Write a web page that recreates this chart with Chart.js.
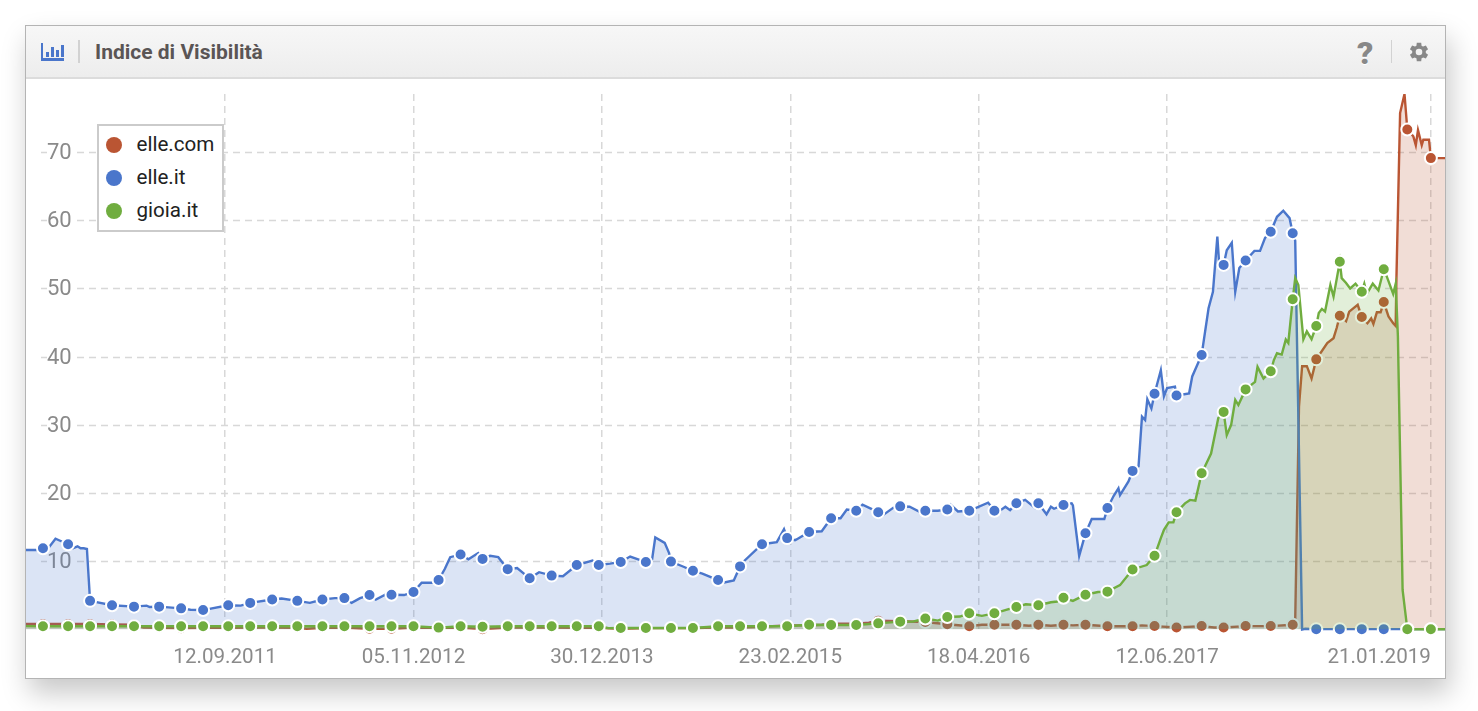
<!DOCTYPE html>
<html lang="it">
<head>
<meta charset="utf-8">
<title>Indice di Visibilità</title>
<script src="https://cdn.jsdelivr.net/npm/chart.js@4"></script>
<style>
    html, body { margin: 0; padding: 0; background: #fff; font-family: Roboto, sans-serif; }
    .card { position: absolute; left: 25px; top: 25px; width: 1419px; height: 652px; background: #fff; border: 1px solid #b4b4b4; box-shadow: 4px 14px 26px rgba(0,0,0,0.22); }
    .card-head { position: absolute; left: 0; top: 0; right: 0; height: 51px; background: linear-gradient(#f7f7f7, #ededed); border-bottom: 2px solid #dcdcdc; }
    .title { position: absolute; left: 69px; top: 13px; font-size: 21px; line-height: 26px; font-weight: 700; color: #5a5555; white-space: nowrap; }
    .sep { position: absolute; top: 14px; width: 2px; height: 23px; background: #d2d2d2; }
    .help { position: absolute; left: 1331px; top: 9px; font-size: 32px; line-height: 36px; font-weight: 900; color: #888; text-shadow: 0 1px 0 #fff; }
    .icon { position: absolute; }
    .chart-wrap { position: absolute; left: 0; top: 53px; width: 1419px; height: 599px; }
    .legend-box { position: absolute; left: 71px; top: 98px; width: 123px; height: 104px; border: 2px solid #cbcbcb; background: #fff; }
    .legend-row { position: absolute; left: 6.5px; height: 33px; line-height: 33px; font-size: 20.6px; color: #222; white-space: nowrap; }
    .legend-row i { display: inline-block; width: 16px; height: 16px; border-radius: 50%; vertical-align: -2px; margin-right: 15px; }
</style>
</head>
<body>
<div class="card">
    <div class="card-head">
        <svg class="icon" style="left:15px;top:17px" width="23" height="18" viewBox="0 0 23 18">
            <path fill="#4a76cb" d="M0 0h2v15h21v3H0z M5 9h3v5H5z M10 4h3v10h-3z M15 7h3v7h-3z M20 2h3v12h-3z"/>
        </svg>
        <div class="sep" style="left:52px"></div>
        <div class="title">Indice di Visibilità</div>
        <div class="help">?</div>
        <div class="sep" style="left:1365px;width:1px"></div>
        <svg class="icon" style="left:1382px;top:15px" width="22" height="22" viewBox="0 0 24 24">
            <path fill="#888" d="M19.4 13a7.6 7.6 0 0 0 0-2l2.5-2-2.4-4.1-3 1.2a7.5 7.5 0 0 0-1.7-1L14.4 2H9.6l-.4 3.1a7.5 7.5 0 0 0-1.7 1l-3-1.2L2.1 9l2.5 2a7.6 7.6 0 0 0 0 2l-2.5 2 2.4 4.1 3-1.2a7.5 7.5 0 0 0 1.7 1l.4 3.1h4.8l.4-3.1a7.5 7.5 0 0 0 1.7-1l3 1.2 2.4-4.1zM12 15.6a3.6 3.6 0 1 1 0-7.2 3.6 3.6 0 0 1 0 7.2z"/>
        </svg>
    </div>
    <div class="chart-wrap"><canvas id="chartVisibilita" width="1419" height="599"></canvas></div>
    <div class="legend-box" id="legendBox"></div>
</div>

<script>
// x values are weeks counted from 12.09.2011
const xTickWeeks = [0, 60, 120, 180, 240, 300, 384];
const xTickLabels = ['12.09.2011', '05.11.2012', '30.12.2013', '23.02.2015', '18.04.2016', '12.06.2017', '21.01.2019'];
const yTicks = [10, 20, 30, 40, 50, 60, 70];

// weeks that carry a dot
const markerWeeks = [-58, -50, -43, -36, -29, -21, -14, -7, 1, 8, 15, 23, 31, 38, 46, 53, 60, 68, 75, 82, 90, 97, 104, 112, 119, 126, 134, 142, 149, 157, 164, 171, 179, 186, 193, 201, 208, 215, 223, 230, 237, 245, 252, 259, 267, 274, 281, 289, 296, 303, 311, 318, 325, 333, 340, 347.5, 355, 362, 369, 376.5, 384];

const elleComWeeks = [-64, -58, -50, -43, -36, -29, -26, -21, -14, -7, 1, 8, 15, 23, 26, 31, 38, 46, 53, 60, 68, 75, 82, 90, 97, 104, 112, 119, 126, 134, 142, 149, 157, 164, 171, 179, 186, 190, 193, 201, 205, 208, 215, 223, 230, 237, 241, 245, 252, 256, 259, 263, 267, 270, 274, 281, 289, 292, 296, 303, 311, 315, 318, 325, 333, 340, 340.8, 342, 343, 344.5, 346, 347.5, 351, 353, 354, 355, 357, 358, 360.7, 362, 363.8, 365, 365.7, 366.8, 368, 369, 370.5, 372, 372.8, 373, 374.2, 375.6, 376.5, 378.4, 379.2, 379.9, 381.1, 381.6, 383.4, 384, 389];
const elleComValues = [0.8, 0.8, 0.8, 0.8, 0.75, 0.7, 0.3, 0.25, 0.2, 0.25, 0.25, 0.3, 0.3, 0.25, 0.1, 0.25, 0.3, 0.1, 0.1, 0.3, 0.25, 0.3, 0.05, 0.3, 0.3, 0.3, 0.25, 0.25, 0.1, 0.2, 0.2, 0.2, 0.3, 0.3, 0.4, 0.6, 0.6, 0.7, 0.85, 0.85, 1, 1.3, 1.2, 1.1, 0.76, 0.47, 0.7, 0.7, 0.7, 0.55, 0.7, 0.55, 0.7, 0.6, 0.7, 0.47, 0.47, 0.6, 0.5, 0.3, 0.5, 0.3, 0.3, 0.5, 0.5, 0.7, 1.4, 32.7, 38.6, 38.6, 36.8, 39.6, 42, 42.7, 44.2, 46, 45.2, 46.6, 47.6, 45.8, 44.9, 45.6, 44.8, 46.5, 46.5, 48, 45.9, 44.9, 44.5, 50.8, 75.7, 78.5, 73.3, 72.3, 71, 73.2, 71, 71.8, 71.8, 69.1, 69.1];

const elleItWeeks = [-64, -59, -58, -56, -54, -52, -50, -48.5, -47, -46, -45, -44, -43, -36, -29, -25, -24, -21, -17, -14, -11, -7, 1, 5, 8, 15, 18, 23, 27, 31, 35, 38, 40.3, 43, 46, 48, 51, 53, 57, 60, 62.6, 66, 68, 70, 71.7, 75, 77.5, 80.6, 82, 84.4, 87, 90, 93, 97, 100, 104, 107.6, 112, 117, 119, 122.6, 126, 129, 132, 134, 136, 137, 140, 141.4, 142, 146, 149, 152, 157, 159, 162, 164, 165, 171, 175.7, 178, 179, 181.5, 182, 186, 190, 193, 196, 198, 201, 203, 208, 209.6, 213, 215, 218, 221, 223, 227, 230, 231, 233.4, 237, 243, 245, 247, 248.5, 250, 252, 254.8, 258, 259, 261.6, 263, 264, 267, 269.6, 270, 272, 274, 276, 280, 281, 283, 284.5, 285, 287.7, 289, 290.9, 292, 293, 293.7, 295, 296, 298, 299, 300, 302.5, 303, 307, 308, 311, 313.2, 314.6, 316, 316.6, 318, 319, 320.6, 321.7, 323, 325, 327.8, 329.6, 331.2, 333, 335, 337, 339, 340, 340.8, 343, 344, 347.5, 355, 362, 369, 376.5, 384, 389];
const elleItValues = [11.65, 11.65, 11.9, 12.1, 13.3, 12.9, 12.5, 11.9, 12.2, 11.9, 11.9, 11.8, 4.2, 3.55, 3.35, 3.5, 3.3, 3.35, 3.2, 3.1, 2.9, 2.85, 3.55, 3.5, 3.9, 4.4, 4.55, 4.2, 3.9, 4.4, 4.6, 4.6, 3.9, 4.6, 5.05, 4.4, 5.1, 5.1, 5.05, 5.5, 6.85, 6.85, 7.25, 8.9, 10.6, 11, 10.3, 11.2, 10.35, 10.8, 10.6, 8.85, 9, 7.5, 8.4, 7.9, 7.8, 9.45, 10.1, 9.45, 9.65, 9.9, 10.7, 10.2, 9.9, 10.3, 13.5, 12.7, 11.2, 9.95, 9.2, 8.6, 8.2, 7.25, 6.9, 7.2, 9.25, 9.9, 12.5, 12.8, 14.7, 13.4, 13.1, 13.2, 14.3, 14.4, 16.3, 16.3, 17.6, 17.4, 18.3, 17.2, 16.8, 17.9, 18.05, 18, 17.3, 17.4, 17.4, 17.6, 18.3, 17.3, 17.4, 18.6, 17.4, 17.5, 18, 17.5, 18.5, 19, 17.8, 18.5, 16.9, 18, 17.7, 18.25, 18.5, 18.2, 10.8, 14.1, 16.2, 16.2, 17.8, 19.6, 20.7, 19.7, 21.7, 23.25, 23.9, 31.2, 30.7, 33.75, 32.4, 34.55, 38, 34.2, 35.4, 35.6, 34.3, 34.6, 37.1, 40.25, 47.1, 49.5, 57.6, 53.5, 53.45, 55.6, 56.7, 49.5, 53, 54.1, 55.5, 55.5, 57.4, 58.3, 60.5, 61.4, 60.3, 58.1, 57, 0, 0.1, 0.05, 0.05, 0.05, 0.05, 0.05, 0.05, 0.05];

const gioiaItWeeks = [-64, -58, -50, -43, -36, -29, -21, -14, -7, 1, 8, 15, 23, 31, 38, 46, 53, 60, 68, 75, 82, 90, 97, 104, 112, 119, 122, 126, 134, 142, 149, 157, 164, 171, 179, 186, 193, 201, 208, 215, 219, 223, 227, 230, 234, 237, 241, 245, 249, 252, 255, 259, 263, 265, 267, 270, 274, 278, 281, 285, 289, 293.5, 296, 298, 299, 300.5, 302, 303, 305.7, 307.3, 309, 311, 314, 316.3, 318, 319, 320.4, 321.7, 322.7, 325, 328, 328.8, 330.7, 333, 334, 335, 336.5, 337.8, 338.6, 340, 340.8, 341.8, 343.4, 344.5, 346, 347.5, 348.3, 349.3, 350.3, 352, 353, 355, 355.6, 357, 358.3, 360, 362, 362.8, 363.6, 365.5, 367.3, 369, 370, 372, 372.8, 373.5, 375, 376.5, 384, 389];
const gioiaItValues = [0.5, 0.47, 0.47, 0.47, 0.47, 0.47, 0.47, 0.47, 0.47, 0.47, 0.47, 0.47, 0.47, 0.47, 0.47, 0.47, 0.47, 0.47, 0.28, 0.47, 0.4, 0.47, 0.47, 0.47, 0.47, 0.47, 0.2, 0.22, 0.22, 0.22, 0.22, 0.47, 0.47, 0.47, 0.47, 0.7, 0.66, 0.66, 0.9, 1.15, 1.15, 1.6, 1.3, 1.83, 1.9, 2.37, 2, 2.37, 2.9, 3.3, 3.7, 3.55, 4, 4.1, 4.65, 4.2, 5.1, 5.5, 5.55, 6.5, 8.8, 9.45, 10.8, 13.4, 14.6, 15.7, 15.7, 17.2, 18.5, 19, 18.9, 22.9, 25.8, 31, 31.9, 28.5, 30, 33.65, 32.9, 35.2, 36.3, 38.5, 36.8, 37.85, 39.5, 40.5, 40.3, 42.5, 42, 48.4, 51.5, 50.5, 42.55, 43.7, 42.55, 44.5, 46.4, 47, 46.6, 50.5, 48.8, 53.9, 51.5, 50.8, 50, 50.7, 49.5, 50.7, 49.2, 50.7, 49.7, 52.8, 51.7, 49.2, 50.7, 43, 5.8, 0.03, 0.03, 0.03];

const RED = '#ba5533';
const BLUE = '#4a76cb';
const GREEN = '#70ad3f';
const GRID = '#d8d8d8';
const TICK_TEXT = '#8a8a8a';

function toPoints(weeks, values) {
    return weeks.map((w, i) => ({ x: w, y: values[i] }));
}

function makeDataset(name, weeks, values, color, fill, order) {
    return {
        label: name,
        data: toPoints(weeks, values),
        borderColor: color,
        backgroundColor: fill,
        borderWidth: 2.4,
        tension: 0,
        fill: 'origin',
        order: order,
        clip: { left: 0, top: 0, right: 0, bottom: 10 },
        pointBackgroundColor: color,
        pointBorderColor: '#ffffff',
        pointBorderWidth: 2,
        pointRadius: ctx => markerWeeks.includes(weeks[ctx.dataIndex]) ? 6 : 0,
        pointHoverRadius: 6
    };
}

// horizontal dashes stop short of the card edges and leave a gap for the tick text
const yGridPlugin = {
    id: 'yGrid',
    beforeDatasetsDraw(chart) {
        const c = chart.ctx;
        const y = chart.scales.y;
        const x = chart.scales.x;
        const right = x.getPixelForValue(xTickWeeks[xTickWeeks.length - 1]);
        c.save();
        c.strokeStyle = GRID;
        c.lineWidth = 1.5;
        c.setLineDash([7, 5]);
        yTicks.forEach(v => {
            const py = Math.round(y.getPixelForValue(v)) + 0.5;
            c.beginPath();
            c.moveTo(15, py);
            c.lineTo(21, py);
            c.moveTo(51, py);
            c.lineTo(right, py);
            c.stroke();
        });
        c.restore();
    }
};

// last date sits left of its gridline, the others are centred on it
const xLabelPlugin = {
    id: 'xLabels',
    afterDraw(chart) {
        const c = chart.ctx;
        const x = chart.scales.x;
        c.save();
        c.font = '20.6px Roboto';
        c.fillStyle = TICK_TEXT;
        c.textBaseline = 'middle';
        xTickWeeks.forEach((w, i) => {
            c.textAlign = i === xTickWeeks.length - 1 ? 'right' : 'center';
            c.fillText(xTickLabels[i], x.getPixelForValue(w), 579);
        });
        c.restore();
    }
};

const datasets = [
    makeDataset('elle.com', elleComWeeks, elleComValues, RED, 'rgba(186,85,51,0.2)', 3),
    makeDataset('elle.it', elleItWeeks, elleItValues, BLUE, 'rgba(74,118,203,0.2)', 2),
    makeDataset('gioia.it', gioiaItWeeks, gioiaItValues, GREEN, 'rgba(112,173,63,0.2)', 1)
];

new Chart(document.getElementById('chartVisibilita').getContext('2d'), {
    type: 'line',
    data: { datasets: datasets },
    plugins: [yGridPlugin, xLabelPlugin],
    options: {
        responsive: false,
        animation: false,
        layout: { padding: { top: 15, bottom: 48.5, left: 0, right: 0 } },
        interaction: { mode: 'nearest', intersect: false },
        scales: {
            x: {
                type: 'linear',
                min: -63.4,
                max: 388.5,
                afterBuildTicks: scale => { scale.ticks = xTickWeeks.map(v => ({ value: v })); },
                afterFit: scale => { scale.height = 0; scale.paddingLeft = 0; scale.paddingRight = 0; },
                grid: { color: GRID, lineWidth: 1.5, drawTicks: false },
                border: { display: false, dash: [7, 5] },
                ticks: { display: false }
            },
            y: {
                min: 0,
                max: 78.5,
                afterBuildTicks: scale => { scale.ticks = yTicks.map(v => ({ value: v })); },
                afterFit: scale => { scale.width = 0; scale.paddingTop = 0; scale.paddingBottom = 0; },
                grid: { display: false },
                border: { display: false },
                ticks: {
                    mirror: true,
                    padding: 21,
                    labelOffset: 1.5,
                    color: TICK_TEXT,
                    font: { family: 'Roboto', size: 22 }
                }
            }
        },
        plugins: {
            legend: { display: false }
        }
    }
});

const legendBox = document.getElementById('legendBox');
datasets.forEach((ds, i) => {
    const row = document.createElement('div');
    row.className = 'legend-row';
    row.style.top = (2 + i * 33) + 'px';
    row.innerHTML = `<i style="background:${ds.borderColor}"></i>${ds.label}`;
    legendBox.appendChild(row);
});
</script>
</body>
</html>
